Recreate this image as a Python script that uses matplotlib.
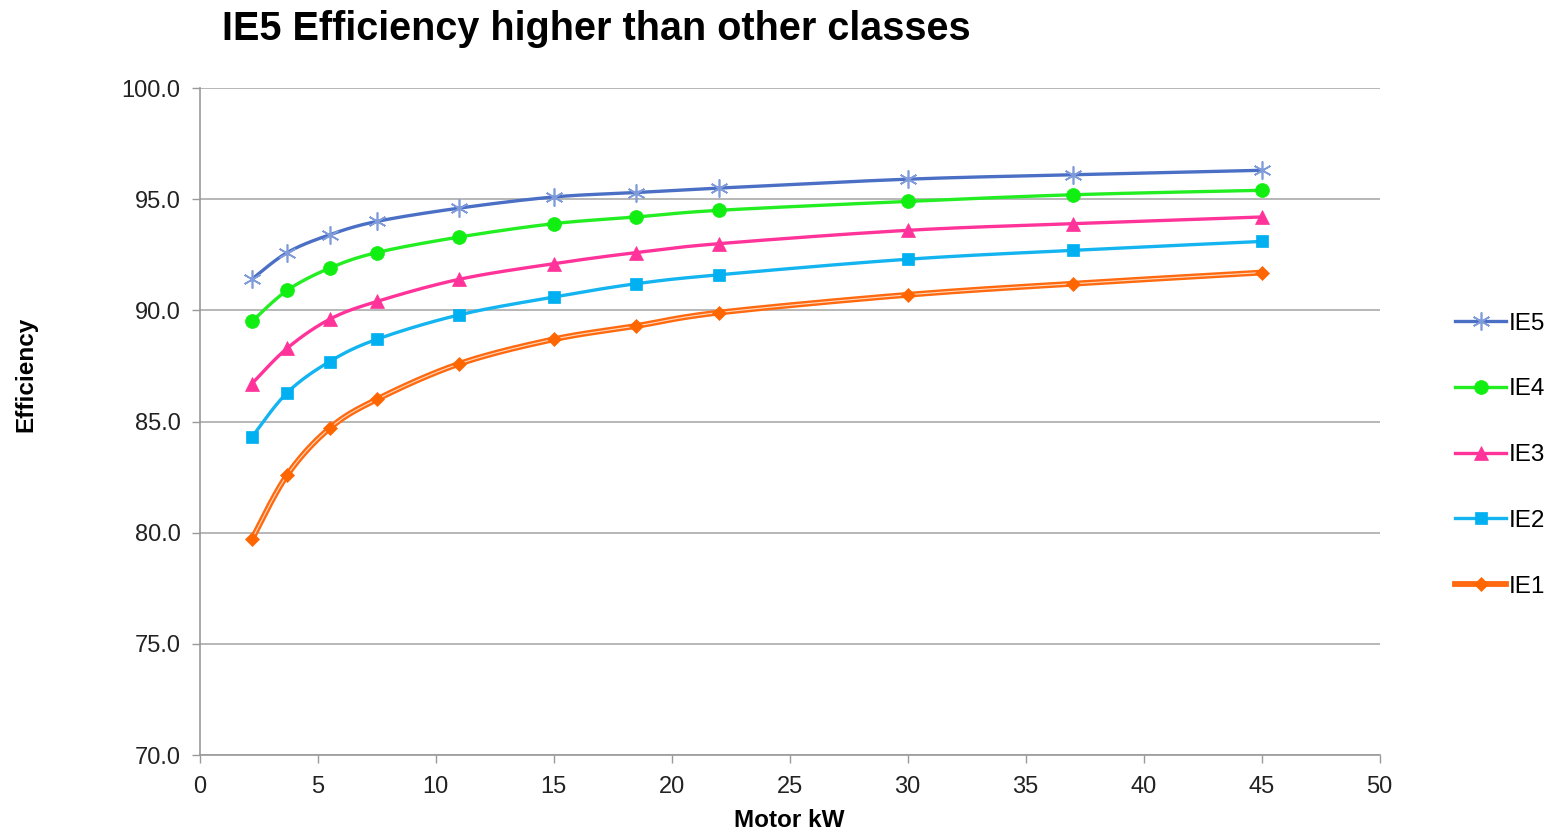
import numpy as np
import matplotlib.pyplot as plt
from matplotlib.path import Path
from matplotlib.lines import Line2D

plt.rcParams['font.family'] = ['Liberation Sans', 'DejaVu Sans']

# Дані
kw = [2.2, 3.7, 5.5, 7.5, 11, 15, 18.5, 22, 30, 37, 45]
ie5 = [91.4, 92.6, 93.4, 94.0, 94.6, 95.1, 95.3, 95.5, 95.9, 96.1, 96.3]
ie4 = [89.5, 90.9, 91.9, 92.6, 93.3, 93.9, 94.2, 94.5, 94.9, 95.2, 95.4]
ie3 = [86.7, 88.3, 89.6, 90.4, 91.4, 92.1, 92.6, 93.0, 93.6, 93.9, 94.2]
ie2 = [84.3, 86.3, 87.7, 88.7, 89.8, 90.6, 91.2, 91.6, 92.3, 92.7, 93.1]
ie1 = [79.7, 82.6, 84.7, 86.0, 87.6, 88.7, 89.3, 89.9, 90.7, 91.2, 91.7]


# Згладжена лінія як у Excel (кубічні криві Безьє)
def smooth_path(x, y, t=1/6):
    x = np.asarray(x, float)
    y = np.asarray(y, float)
    verts = [(x[0], y[0])]
    codes = [Path.MOVETO]
    n = len(x)
    for i in range(n - 1):
        x0, y0 = (x[i - 1], y[i - 1]) if i > 0 else (x[i], y[i])
        x3, y3 = (x[i + 2], y[i + 2]) if i + 2 < n else (x[i + 1], y[i + 1])
        c1 = (x[i] + (x[i + 1] - x0) * t, y[i] + (y[i + 1] - y0) * t)
        c2 = (x[i + 1] - (x3 - x[i]) * t, y[i + 1] - (y3 - y[i]) * t)
        verts += [c1, c2, (x[i + 1], y[i + 1])]
        codes += [Path.CURVE4] * 3
    return Path(verts, codes)


def bez_points(path, steps=30):
    v = path.vertices
    xs, ys = [v[0][0]], [v[0][1]]
    for k in range(1, len(v), 3):
        p0, p1, p2, p3 = v[k - 1], v[k], v[k + 1], v[k + 2]
        s = np.linspace(0, 1, steps)[1:]
        pts = ((1 - s) ** 3)[:, None] * p0 + (3 * (1 - s) ** 2 * s)[:, None] * p1 \
            + (3 * (1 - s) * s ** 2)[:, None] * p2 + (s ** 3)[:, None] * p3
        xs += list(pts[:, 0])
        ys += list(pts[:, 1])
    return xs, ys


fig = plt.figure(figsize=(15.5, 8.32), dpi=100)
ax = fig.add_axes([0.129, 0.0925, 0.761, 0.8017])

series = [
    ('IE5', ie5, '#4A6FC4', (6, 2, 0), '#7F9BDA', 13),
    ('IE4', ie4, '#22EE22', 'o', '#11EE11', 10),
    ('IE3', ie3, '#FF3399', '^', '#FF3399', 10),
    ('IE2', ie2, '#14B4F0', 's', '#00B0F0', 9),
    ('IE1', ie1, '#FF6A10', 'D', '#FF6600', 7),
]

handles = []
for name, vals, col, mk, mcol, ms in series:
    sx, sy = bez_points(smooth_path(kw, vals))
    lw = 4.2 if name == 'IE1' else 2.4
    ax.plot(sx, sy, color=col, lw=lw, solid_capstyle='round', zorder=3)
    if name == 'IE1':
        ax.plot(sx, sy, color='#FFD9C0', lw=0.8, zorder=3)
    mew = 1.2 if name == 'IE5' else 0.5
    ax.plot(kw, vals, ls='none', marker=mk, ms=ms, color=mcol,
            markeredgecolor=mcol, markeredgewidth=mew, zorder=4)
    handles.append(Line2D([], [], color=col, lw=lw, marker=mk, ms=ms,
                          markerfacecolor=mcol, markeredgecolor=mcol,
                          markeredgewidth=mew))

ax.set_xlim(0, 50)
ax.set_ylim(70, 100)
ax.set_xticks(np.arange(0, 51, 5))
ax.set_yticks(np.arange(70, 100.1, 5))
ax.set_yticklabels([f'{v:.1f}' for v in np.arange(70, 100.1, 5)])
ax.tick_params(labelsize=17, colors='#222222', length=6, width=1, direction='out')
ax.tick_params(axis='both', color='#999999')
ax.tick_params(axis='y', pad=8)
ax.tick_params(axis='x', pad=9)
ax.grid(axis='y', color='#AAAAAA', lw=1.2)
ax.set_axisbelow(True)
for s in ['top', 'right']:
    ax.spines[s].set_visible(False)
for s in ['left', 'bottom']:
    ax.spines[s].set_color('#999999')
    ax.spines[s].set_linewidth(1.2)

ax.set_xlabel('Motor kW', fontsize=17.5, fontweight='bold', labelpad=8)
fig.text(0.017, 0.55, 'Efficiency', fontsize=17.5, fontweight='bold',
         rotation=90, ha='center', va='center')
fig.text(0.143, 0.965, 'IE5 Efficiency higher than other classes',
         fontsize=28.5, fontweight='bold', ha='left', va='center')

fig.legend(handles, [s[0] for s in series], loc='center left',
           bbox_to_anchor=(0.9325, 0.453), frameon=False, fontsize=17.5,
           handlelength=2.1, handletextpad=0.1, labelspacing=1.8,
           borderaxespad=0)

fig.savefig('out.png', dpi=100)
